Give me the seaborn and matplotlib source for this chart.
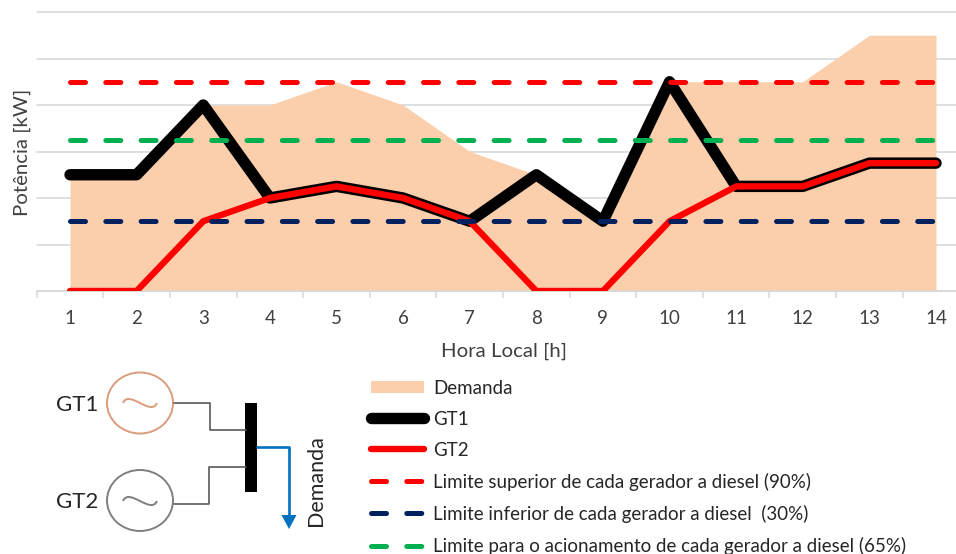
import matplotlib
matplotlib.use("Agg")
import matplotlib.pyplot as plt
import seaborn as sns
from matplotlib.patches import Ellipse, Rectangle, PathPatch, Polygon
from matplotlib.path import Path

hours = list(range(1, 15))
demanda = [250, 250, 400, 400, 450, 400, 300, 250, 150, 450, 450, 450, 550, 550]
gt1 = [250, 250, 400, 200, 225, 200, 150, 250, 150, 450, 225, 225, 275, 275]
gt2 = [0, 0, 150, 200, 225, 200, 150, 0, 0, 150, 225, 225, 275, 275]
lim_sup = [450] * 14
lim_inf = [150] * 14
lim_acion = [325] * 14
y_ticks = [0, 100, 200, 300, 400, 500, 600]
labels = ["Demanda", "GT1", "GT2",
          "Limite superior de cada gerador a diesel (90%)",
          "Limite inferior de cada gerador a diesel  (30%)",
          "Limite para o acionamento de cada gerador a diesel (65%)"]

sns.set_theme(style="white")
plt.rcParams["font.family"] = ["Lato", "DejaVu Sans"]
TXT = "#404040"
GRID = "#D9D9D9"
W, H = 956, 554
fig = plt.figure(figsize=(W / 100, H / 100), dpi=100, facecolor="white")
ax = fig.add_axes([36.7 / W, (H - 291) / H, (W - 36.7) / W, 279 / H])

area = ax.fill_between(hours, demanda, 0, color="#FBCFAC", linewidth=0, zorder=2, label=labels[0])
dash = (0, (3.0, 4.06))
sns.lineplot(x=hours, y=gt1, ax=ax, color="black", linewidth=8.2, label=labels[1], zorder=3,
             solid_capstyle="round", solid_joinstyle="round", legend=False)
sns.lineplot(x=hours, y=gt2, ax=ax, color="#FF0000", linewidth=4.6, label=labels[2], zorder=4,
             solid_capstyle="round", solid_joinstyle="round", legend=False)
for vals, col, lab in [(lim_sup, "#FF0000", labels[3]), (lim_inf, "#002060", labels[4]),
                       (lim_acion, "#00B050", labels[5])]:
    sns.lineplot(x=hours, y=vals, ax=ax, color=col, linewidth=3.6, label=lab, zorder=5,
                 linestyle=dash, dash_capstyle="round", legend=False)

ax.set_xlim(0.5, 14.3)
ax.set_ylim(0, 600)
ax.set_yticks(y_ticks)
ax.set_yticklabels([])
ax.set_xticks(hours)
ax.set_xticklabels([str(h) for h in hours], fontsize=13.5, color=TXT)
ax.set_xticks([h + 0.5 for h in [0] + hours[:-1]], minor=True)
ax.tick_params(axis="x", which="major", length=0, pad=14)
ax.tick_params(axis="x", which="minor", length=5, width=1.1, color=GRID, bottom=True)
ax.tick_params(axis="y", length=0)
ax.yaxis.grid(True, color=GRID, linewidth=1.2, clip_on=False)
for gl in ax.get_ygridlines():
    gl.set_clip_on(False)
ax.set_axisbelow(True)
for s in ["top", "left", "right"]:
    ax.spines[s].set_visible(False)
ax.spines["bottom"].set_color(GRID)
ax.spines["bottom"].set_linewidth(1.2)
ax.set_xlabel("Hora Local [h]", fontsize=14.7, color=TXT, labelpad=11, x=0.5078)
ax.set_ylabel("")
fig.text(22 / W, 1 - 152 / H, "Potência [kW]", rotation=90, ha="center", va="center",
         fontsize=14.7, color=TXT)
ax.patch.set_alpha(0)

handles, labs = ax.get_legend_handles_labels()
order = [labs.index(l) for l in labels]
fig.legend([handles[i] for i in order], [labs[i] for i in order],
           loc="upper left", bbox_to_anchor=(365 / W, 1 - 374 / H), frameon=False,
           fontsize=13.5, labelcolor="#262626", handlelength=2.85, handleheight=0.55,
           handletextpad=0.5, labelspacing=0.745, borderpad=0.3, borderaxespad=0)

# One-line diagram, in figure pixels
d = fig.add_axes([0, 0, 1, 1], facecolor="none")
d.set_xlim(0, W)
d.set_ylim(H, 0)
d.axis("off")
d.add_patch(Ellipse((140, 403), 66, 61, fill=False, ec="#DB9C7B", lw=1.4))
d.add_patch(Ellipse((140, 500.5), 66, 61, fill=False, ec="#7F7F7F", lw=1.4))
for cy, col in [(403, "#DB9C7B"), (501, "#7F7F7F")]:
    p = Path([(123, cy), (129, cy - 14), (151, cy + 14), (157, cy)],
             [Path.MOVETO, Path.CURVE4, Path.CURVE4, Path.CURVE4])
    d.add_patch(PathPatch(p, fill=False, ec=col, lw=1.4))
d.plot([174, 210, 210, 246], [403, 403, 429.5, 429.5], color="#595959", lw=1.2)
d.plot([174, 209, 209, 246], [504, 504, 467, 467], color="#595959", lw=1.2)
d.add_patch(Rectangle((245, 403), 12.5, 89, fc="black", ec="none"))
d.plot([257, 289, 289], [447, 447, 517], color="#0070C0", lw=1.9)
d.add_patch(Polygon([(281.5, 515), (296.5, 515), (289, 529)], fc="#0070C0", ec="none"))
d.text(77, 405, "GT1", fontsize=16, ha="center", va="center", color="#262626")
d.text(77, 502, "GT2", fontsize=16, ha="center", va="center", color="#262626")
d.text(316, 481, "Demanda", fontsize=15.5, rotation=90, ha="center", va="center", color="#262626")

fig.savefig("out.png", dpi=100)
